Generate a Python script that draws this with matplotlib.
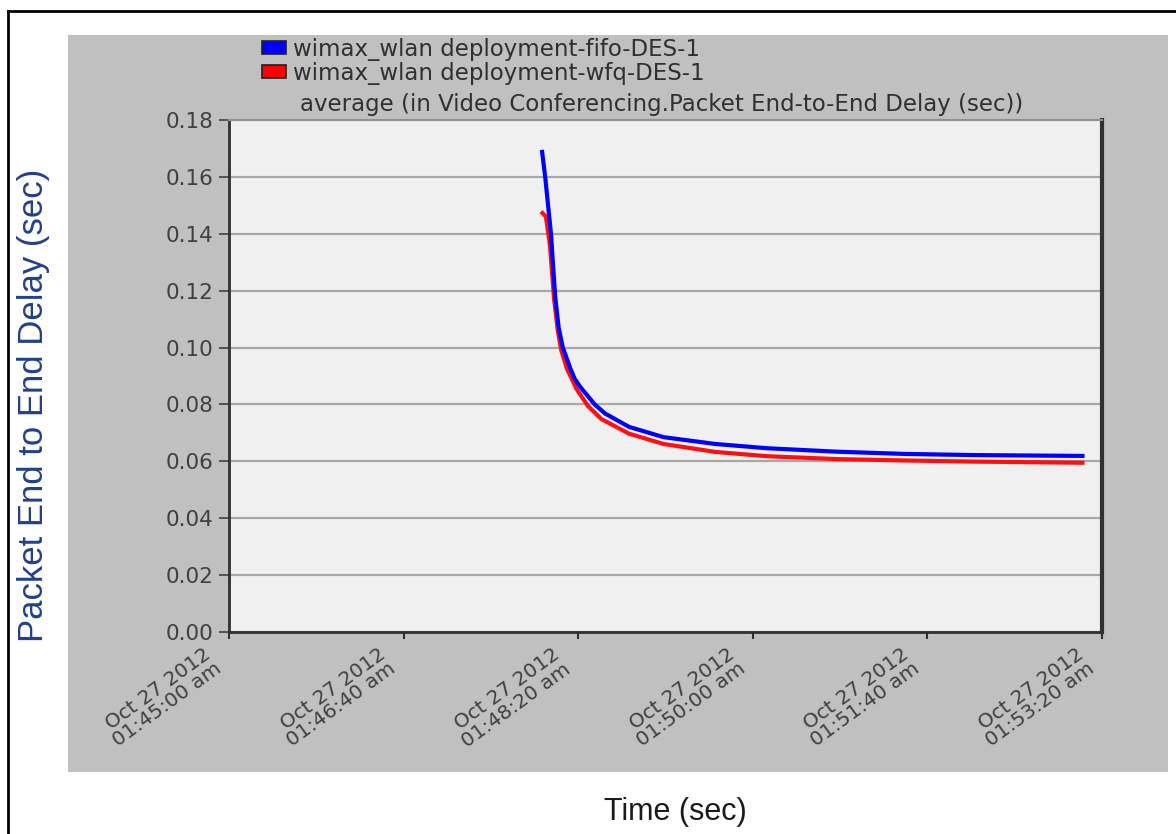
import matplotlib
matplotlib.use("Agg")
import matplotlib.pyplot as plt
import matplotlib.transforms as mtransforms
from matplotlib.patches import Rectangle, Patch
from matplotlib.lines import Line2D
import numpy as np

#~~~Data~~~
# time in seconds after 01:45:00 am, delay in seconds
t_fifo = [179.2, 181.1, 184.4, 186.8, 188.8, 191.2, 195.6, 198.0, 201.1, 209.5,
          215.4, 229.2, 248.9, 278.6, 308.3, 347.8, 387.3, 426.8, 490.0]
d_fifo = [0.1695, 0.160, 0.140, 0.118, 0.107, 0.100, 0.0925, 0.0890, 0.0862,
          0.0800, 0.0768, 0.0721, 0.0685, 0.0661, 0.0646, 0.0634, 0.0626,
          0.0622, 0.0619]

t_wfq = [178.7, 181.5, 183.8, 186.2, 188.3, 190.3, 193.6, 199.0, 205.5, 213.4,
         229.2, 248.9, 278.6, 308.3, 347.8, 387.3, 426.8, 490.0]
d_wfq = [0.1478, 0.1460, 0.136, 0.117, 0.106, 0.099, 0.0925, 0.0855, 0.0795,
         0.0748, 0.0697, 0.0661, 0.0633, 0.0618, 0.0608, 0.0603, 0.0599, 0.0595]

series_names = ["wimax_wlan deployment-fifo-DES-1",
                "wimax_wlan deployment-wfq-DES-1"]

x_ticks = [0, 100, 200, 300, 400, 500]
x_ticklabels = ["Oct 27 2012\n01:45:00 am", "Oct 27 2012\n01:46:40 am",
                "Oct 27 2012\n01:48:20 am", "Oct 27 2012\n01:50:00 am",
                "Oct 27 2012\n01:51:40 am", "Oct 27 2012\n01:53:20 am"]
y_ticks = np.arange(0, 0.181, 0.02)

W, H = 1176, 834
fig = plt.figure(figsize=(W/100, H/100), dpi=100)
fig.patch.set_facecolor("white")

# grey panel behind the plot
fig.patches.append(Rectangle((68/W, 1-772/H), 1100/W, 737/H,
                             transform=fig.transFigure, facecolor="#c0c0c0",
                             edgecolor="none", zorder=-1))
# outer frame (top and left edges)
fig.add_artist(Line2D([8/W, 1], [1-11/H, 1-11/H], color="black", lw=2,
                      transform=fig.transFigure))
fig.add_artist(Line2D([8/W, 8/W], [0, 1-11/H], color="black", lw=2,
                      transform=fig.transFigure))

ax = fig.add_axes([229/W, 1-632/H, (1102-229)/W, (632-120)/H])
ax.set_zorder(2)
ax.set_facecolor("#f0f0f0")

ax.plot(t_wfq, d_wfq, color="#ff1010", lw=3, solid_joinstyle="round",
        solid_capstyle="butt", zorder=3)
ax.plot(t_fifo, d_fifo, color="#0000ff", lw=3, solid_joinstyle="round",
        solid_capstyle="butt", zorder=4)

ax.set_xlim(0, 500)
ax.set_ylim(0, 0.18)
ax.tick_params(axis="y", length=7, width=1.2, color="#404040", pad=4)
ax.tick_params(axis="x", length=5, width=1.5, color="#303030", pad=4)
ax.set_yticks(y_ticks)
ax.set_yticklabels(["%.2f" % v for v in y_ticks], fontsize=15.5,
                   color="#404040", family="DejaVu Sans")
ax.set_xticks(x_ticks)
ax.set_xticklabels(x_ticklabels, rotation=36, ha="right", va="top",
                   rotation_mode="anchor", fontsize=14.5, color="#404040",
                   family="DejaVu Sans", linespacing=0.95)
# nudge the slanted date labels left of their ticks
shift = mtransforms.ScaledTranslation(-26/100, 0, fig.dpi_scale_trans)
for lbl in ax.get_xticklabels():
    lbl.set_transform(lbl.get_transform() + shift)
ax.yaxis.grid(True, color="#a8a8a8", lw=1.6)
ax.set_axisbelow(True)

for side in ["left", "bottom"]:
    ax.spines[side].set_color("#303030")
    ax.spines[side].set_linewidth(2)
ax.spines["right"].set_color("#303030")
ax.spines["right"].set_linewidth(3)
ax.spines["top"].set_color("#909090")
ax.spines["top"].set_linewidth(1.5)

ax.text(0.496, 1.008, "average (in Video Conferencing.Packet End-to-End Delay (sec))",
        transform=ax.transAxes, ha="center", va="bottom", fontsize=16.5,
        color="#303030", family="DejaVu Sans")

handles = [Patch(facecolor="#0000ff", edgecolor="#202020", lw=1.2),
           Patch(facecolor="#ff0000", edgecolor="#202020", lw=1.2)]
fig.legend(handles, series_names, loc="upper left",
           bbox_to_anchor=(241/W, 1-17/H), frameon=False,
           handlelength=1.05, handleheight=0.5, handletextpad=0.3,
           labelspacing=0.05, labelcolor="#303030",
           prop={"family": "DejaVu Sans", "size": 16.5})

fig.text(34/W, 1-405/H, "Packet End to End Delay (sec)", rotation=90,
         ha="center", va="center", fontsize=25, color="#22408a",
         family="Liberation Sans")
fig.text(675/W, 1-812/H, "Time (sec)", ha="center", va="center",
         fontsize=22, color="#1a1a1a", family="Liberation Sans")

fig.savefig("out.png", dpi=100)
